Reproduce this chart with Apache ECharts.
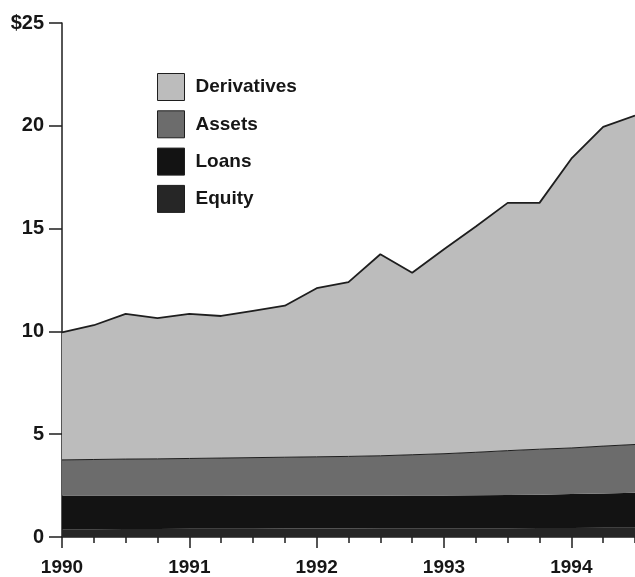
<!DOCTYPE html>
<html>
<head>
<meta charset="utf-8">
<script src="https://cdn.jsdelivr.net/npm/echarts@6/dist/echarts.min.js"></script>
<style>
    html, body { margin: 0; padding: 0; background: #fff; }
    #chart { width: 635px; height: 577px; }
</style>
</head>
<body>
<div id="chart"></div>
<script>
// Quarterly points, 1990 to mid 1994 (billions of dollars)
const quarters = ['1990', '1990Q2', '1990Q3', '1990Q4', '1991', '1991Q2', '1991Q3', '1991Q4',
    '1992', '1992Q2', '1992Q3', '1992Q4', '1993', '1993Q2', '1993Q3', '1993Q4', '1994', '1994Q2', '1994Q3'];

const equity = [0.38, 0.38, 0.39, 0.39, 0.40, 0.40, 0.40, 0.41, 0.41, 0.41,
    0.42, 0.42, 0.42, 0.43, 0.43, 0.44, 0.44, 0.45, 0.45];
const loans = [1.64, 1.64, 1.63, 1.63, 1.62, 1.62, 1.61, 1.60, 1.60, 1.60,
    1.59, 1.60, 1.60, 1.60, 1.61, 1.62, 1.65, 1.67, 1.70];
const assets = [1.73, 1.75, 1.77, 1.78, 1.80, 1.82, 1.85, 1.87, 1.89, 1.91,
    1.94, 1.98, 2.03, 2.09, 2.16, 2.21, 2.24, 2.30, 2.35];
const derivatives = [6.20, 6.53, 7.06, 6.85, 7.03, 6.91, 7.14, 7.37, 8.20, 8.48,
    9.80, 8.85, 9.95, 10.98, 12.05, 11.98, 14.07, 15.53, 16.00];

const yearLabels = ['1990', '1991', '1992', '1993', '1994'];

const font = '"Liberation Sans", Arial, Helvetica, sans-serif';
const ink = '#1e1e1e';

function layer(name, values, fill, lineWidth) {
    return {
        name: name,
        type: 'line',
        stack: 'total',
        data: values,
        symbol: 'none',
        color: fill,
        lineStyle: { color: ink, width: lineWidth },
        areaStyle: { color: fill, opacity: 1 },
        itemStyle: { color: fill, borderColor: ink, borderWidth: 1 },
        animation: false
    };
}

const chart = echarts.init(document.getElementById('chart'));

chart.setOption({
    backgroundColor: '#fff',
    textStyle: { fontFamily: font },
    grid: { left: 62, right: -3, top: 23, bottom: 36 },
    legend: {
        data: ['Derivatives', 'Assets', 'Loans', 'Equity'],
        orient: 'vertical',
        left: 157,
        top: 73,
        padding: 0,
        icon: 'rect',
        itemWidth: 27,
        itemHeight: 27,
        itemGap: 9.3,
        itemStyle: { borderColor: ink, borderWidth: 1 },
        textStyle: {
            fontSize: 19,
            fontWeight: 'bold',
            color: '#161616',
            fontFamily: font,
            padding: [0, 0, 0, 6]
        }
    },
    xAxis: [
        {
            // quarters carry the data, short ticks
            type: 'category',
            data: quarters,
            boundaryGap: false,
            position: 'bottom',
            axisLine: { lineStyle: { color: ink, width: 1.5 } },
            axisTick: { interval: 0, length: 6, lineStyle: { color: ink, width: 1.5 } },
            axisLabel: { show: false }
        },
        {
            // years: long ticks and labels
            type: 'category',
            data: quarters,
            boundaryGap: false,
            position: 'bottom',
            axisLine: { show: false },
            axisTick: { interval: 3, length: 11, lineStyle: { color: ink, width: 1.5 } },
            axisLabel: {
                interval: 3,
                margin: 21,
                fontSize: 19,
                fontWeight: 'bold',
                color: '#161616',
                fontFamily: font,
                formatter: v => (yearLabels.includes(v) ? v : '')
            }
        }
    ],
    yAxis: {
        type: 'value',
        min: 0,
        max: 25,
        interval: 5,
        splitLine: { show: false },
        axisLine: { show: true, lineStyle: { color: ink, width: 1.5 } },
        axisTick: { show: true, length: 13, lineStyle: { color: ink, width: 1.5 } },
        axisLabel: {
            margin: 18,
            fontSize: 20,
            fontWeight: 'bold',
            color: '#161616',
            fontFamily: font,
            formatter: v => (v === 25 ? '$25' : String(v))
        }
    },
    series: [
        layer('Equity', equity, '#262626', 0),
        layer('Loans', loans, '#131313', 0),
        layer('Assets', assets, '#6c6c6c', 1),
        layer('Derivatives', derivatives, '#bcbcbc', 1.8)
    ]
});
</script>
</body>
</html>
